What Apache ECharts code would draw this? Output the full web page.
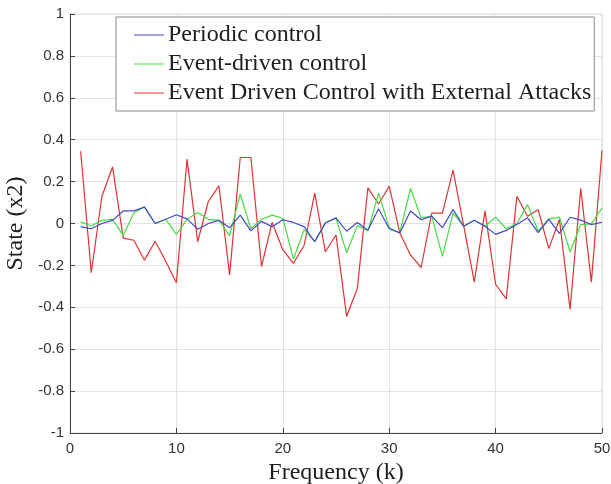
<!DOCTYPE html>
<html>
<head>
<meta charset="utf-8">
<script src="https://cdn.jsdelivr.net/npm/echarts@6/dist/echarts.min.js"></script>
<style>
  html, body { margin: 0; padding: 0; background: #fff; }
  #chart { width: 611px; height: 484px; }
</style>
</head>
<body>
<div id="chart"></div>
<script>
const freq = [1, 2, 3, 4, 5, 6, 7, 8, 9, 10, 11, 12, 13, 14, 15, 16, 17, 18, 19, 20,
    21, 22, 23, 24, 25, 26, 27, 28, 29, 30, 31, 32, 33, 34, 35, 36, 37, 38, 39, 40,
    41, 42, 43, 44, 45, 46, 47, 48, 49, 50];

const periodic = [-0.015, -0.025, 0, 0.015, 0.06, 0.06, 0.078, 0, 0.02, 0.042,
    0.022, -0.027, 0, 0.015, -0.02, 0.04, -0.035, 0.01, -0.015, 0.018,
    0.005, -0.015, -0.087, 0.002, 0.027, -0.037, 0.005, -0.032, 0.07, -0.025,
    -0.045, 0.06, 0.018, 0.035, -0.02, 0.066, -0.013, 0.016, -0.013, -0.052,
    -0.033, -0.005, 0.027, -0.044, 0.02, -0.047, 0.03, 0.016, -0.005, 0.006];

const eventDriven = [0.008, -0.012, 0.015, 0.02, -0.057, 0.05, 0.08, 0, 0.02, -0.052,
    0.02, 0.053, 0.02, 0.015, -0.058, 0.14, -0.025, 0.02, 0.04, 0.025,
    -0.17, -0.03, -0.085, 0.005, 0.025, -0.14, -0.01, -0.035, 0.145, -0.02,
    -0.045, 0.168, 0.027, 0.035, -0.157, 0.05, -0.013, 0.016, -0.013, 0.03,
    -0.025, 0, 0.09, -0.036, 0.022, 0.03, -0.135, -0.005, -0.002, 0.074];

const attacked = [0.345, -0.235, 0.13, 0.27, -0.07, -0.08, -0.175, -0.085, -0.18, -0.283,
    0.307, -0.087, 0.105, 0.18, -0.245, 0.315, 0.315, -0.205, 0.005, -0.125,
    -0.19, -0.105, 0.145, -0.135, -0.055, -0.443, -0.31, 0.17, 0.093, 0.178,
    -0.045, -0.15, -0.21, 0.05, 0.05, 0.255, -0.01, -0.28, 0.06, -0.29,
    -0.36, 0.13, 0.035, 0.066, -0.12, 0.02, -0.41, 0.168, -0.28, 0.35];

const yTicks = ['-1', '-0.8', '-0.6', '-0.4', '-0.2', '0', '0.2', '0.4', '0.6', '0.8', '1'];

const pairs = vals => freq.map((k, i) => [k, vals[i]]);

const chart = echarts.init(document.getElementById('chart'));

const serif = 'Liberation Serif';
const sans = 'Liberation Sans';

chart.setOption({
    animation: false,
    grid: {
        left: 70,
        right: 9,
        top: 14,
        bottom: 51,
        containLabel: false,
        outerBoundsMode: 'none',
        show: true,
        borderColor: '#dcdcdc',
        borderWidth: 1
    },
    legend: {
        orient: 'vertical',
        left: 116,
        top: 17,
        padding: [6, 3, 6, 18],
        itemGap: 5,
        itemWidth: 30,
        itemHeight: 1,
        icon: 'rect',
        backgroundColor: '#fff',
        borderColor: '#8a8a8a',
        borderWidth: 1,
        borderRadius: 0,
        textStyle: {
            fontFamily: serif,
            fontSize: 24,
            lineHeight: 24,
            color: '#1e1e1e',
            padding: [0, 0, 0, -1]
        },
        data: ['Periodic control', 'Event-driven control', 'Event Driven Control with External Attacks']
    },
    xAxis: {
        type: 'value',
        min: 0,
        max: 50,
        interval: 10,
        name: 'Frequency (k)',
        nameLocation: 'middle',
        nameGap: 20,
        nameTextStyle: { fontFamily: serif, fontSize: 24, color: '#1e1e1e' },
        axisLine: { onZero: false, lineStyle: { color: '#444', width: 1 } },
        axisTick: { inside: true, length: 5, lineStyle: { color: '#444' } },
        axisLabel: { fontFamily: sans, fontSize: 15, color: '#333', margin: 8 },
        splitLine: { show: true, lineStyle: { color: '#e2e2e2', width: 1 } }
    },
    yAxis: {
        type: 'value',
        min: -1,
        max: 1,
        interval: 0.2,
        name: 'State (x2)',
        nameLocation: 'middle',
        nameGap: 36,
        nameTextStyle: { fontFamily: serif, fontSize: 24, color: '#1e1e1e' },
        axisLine: { show: true, onZero: false, lineStyle: { color: '#444', width: 1 } },
        axisTick: { show: true, inside: true, length: 5, lineStyle: { color: '#444' } },
        axisLabel: {
            fontFamily: sans,
            fontSize: 15,
            color: '#333',
            margin: 6,
            formatter: (v) => yTicks[Math.round((v + 1) * 5)]
        },
        splitLine: { show: true, lineStyle: { color: '#e2e2e2', width: 1 } }
    },
    series: [
        {
            name: 'Periodic control',
            type: 'line',
            data: pairs(periodic),
            symbol: 'none',
            lineStyle: { color: '#4646c8', width: 1.2 },
            itemStyle: { color: '#4646c8' },
            z: 3
        },
        {
            name: 'Event-driven control',
            type: 'line',
            data: pairs(eventDriven),
            symbol: 'none',
            lineStyle: { color: '#44dd44', width: 1.2 },
            itemStyle: { color: '#44dd44' },
            z: 2
        },
        {
            name: 'Event Driven Control with External Attacks',
            type: 'line',
            data: pairs(attacked),
            symbol: 'none',
            lineStyle: { color: '#dd3333', width: 1.2 },
            itemStyle: { color: '#dd3333' },
            z: 1
        }
    ]
});
</script>
</body>
</html>
